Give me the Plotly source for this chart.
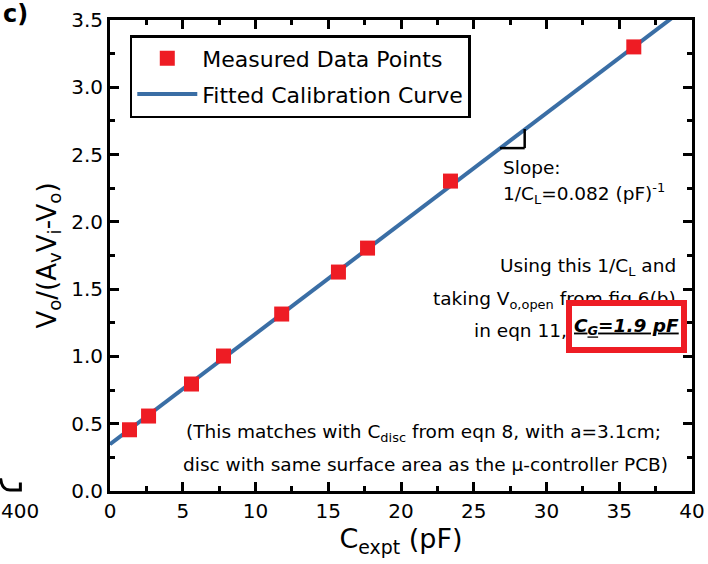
import plotly.graph_objects as go

# Data
c_expt = [1.34, 2.65, 5.6, 7.8, 11.8, 15.7, 17.7, 23.4, 36.0]
v_ratio = [0.455, 0.557, 0.795, 1.003, 1.315, 1.627, 1.805, 2.303, 3.30]
fit_x = [0, 40]
slope = 0.082
intercept = 0.348
fit_y = [intercept + slope * x for x in fit_x]

x_ticks = [0, 5, 10, 15, 20, 25, 30, 35, 40]
y_ticks = [0.0, 0.5, 1.0, 1.5, 2.0, 2.5, 3.0, 3.5]
y_tick_text = ["%.1f" % v for v in y_ticks]

FONT = "DejaVu Sans"
RED = "#ee1c24"
BLUE = "#3a6ea5"

fig = go.Figure()
fig.add_trace(go.Scatter(x=fit_x, y=fit_y, mode="lines", name="Fitted Calibration Curve",
                         legendgroup="b", legendrank=2, line=dict(color=BLUE, width=4)))
fig.add_trace(go.Scatter(x=c_expt, y=v_ratio, mode="markers", name="Measured Data Points",
                         legendgroup="a", legendrank=1,
                         marker=dict(symbol="square", size=15, color=RED)))

axis_common = dict(showline=True, linecolor="black", linewidth=3, mirror="allticks",
                   ticks="inside", ticklen=9, tickwidth=3, tickcolor="black",
                   showgrid=False, zeroline=False, automargin=False,
                   tickfont=dict(family=FONT, size=20, color="black"))

fig.update_xaxes(range=[0, 40], tickvals=x_ticks,
                 minor=dict(ticks="inside", ticklen=5, tickwidth=3, dtick=2.5, tickcolor="black"),
                 title=dict(text="C<sub>expt</sub> (pF)", font=dict(family=FONT, size=27, color="black"),
                            standoff=7),
                 **axis_common)
fig.update_yaxes(range=[0, 3.5], tickvals=y_ticks, ticktext=y_tick_text,
                 minor=dict(ticks="inside", ticklen=5, tickwidth=3, dtick=0.25, tickcolor="black"),
                 title=dict(text="V<sub>o</sub>/(A<sub>v</sub>V<sub>i</sub>-V<sub>o</sub>)",
                            font=dict(family=FONT, size=26, color="black"), standoff=8),
                 **axis_common)

ann_font = dict(family=FONT, size=18.5, color="black")
annotations = [
    dict(text="<b>c)</b>", xref="paper", yref="paper", x=-0.188, y=1.013, xanchor="left",
         yanchor="middle", showarrow=False, font=dict(family=FONT, size=24, color="black")),
    dict(text="400", xref="paper", yref="paper", x=-0.155, y=-0.042, xanchor="center",
         yanchor="middle", showarrow=False, font=dict(family=FONT, size=20, color="black")),
    dict(text="Slope:", x=26.84, y=2.407, xanchor="left", yanchor="middle", showarrow=False, font=ann_font),
    dict(text="1/C<sub>L</sub>=0.082 (pF)<sup>-1</sup>", x=26.84, y=2.214, xanchor="left",
         yanchor="middle", showarrow=False, font=ann_font),
    dict(text="Using this 1/C<sub>L</sub> and", x=39.07, y=1.664, xanchor="right",
         yanchor="middle", showarrow=False, font=ann_font),
    dict(text="taking V<sub>o,open</sub> from fig 6(b)", x=39.07, y=1.419, xanchor="right",
         yanchor="middle", showarrow=False, font=ann_font),
    dict(text="in eqn 11,", x=24.9, y=1.196, xanchor="left",
         yanchor="middle", showarrow=False, font=ann_font),
    dict(text="<b><i><u>C<sub>G</sub>=1.9 pF</u></i></b>", x=35.5, y=1.225, xanchor="center",
         yanchor="middle", showarrow=False, font=ann_font, bgcolor="white",
         bordercolor=RED, borderwidth=6, borderpad=2, width=105, height=37),
    dict(text="(This matches with C<sub>disc</sub> from eqn 8, with a=3.1cm;", x=21.55, y=0.431,
         xanchor="center", yanchor="middle", showarrow=False, font=ann_font),
    dict(text="disc with same surface area as the \u03bc-controller PCB)", x=21.65, y=0.2,
         xanchor="center", yanchor="middle", showarrow=False, font=ann_font),
]

shapes = [
    # slope right-angle marker
    dict(type="line", x0=26.8, y0=2.548, x1=28.5, y1=2.548, line=dict(color="black", width=2.5)),
    dict(type="line", x0=28.5, y0=2.548, x1=28.5, y1=2.69, line=dict(color="black", width=2.5)),
    # remnant of neighbouring panel axis
    dict(type="path", xref="paper", yref="paper",
         path="M -0.188,0.027 Q -0.186,0.002 -0.172,0.002 L -0.154,0.002 L -0.154,0.018",
         line=dict(color="black", width=3)),
]

fig.update_layout(
    width=708, height=564,
    margin=dict(l=110, r=16, t=20, b=73),
    plot_bgcolor="white", paper_bgcolor="white",
    showlegend=True,
    legend=dict(x=0.034, y=0.968, xanchor="left", yanchor="top",
                bordercolor="black", borderwidth=2.5, bgcolor="white",
                font=dict(family=FONT, size=22, color="black"),
                traceorder="grouped", itemwidth=60, tracegroupgap=4),
    annotations=annotations,
    shapes=shapes,
)

fig.write_html("out.html", config={"displayModeBar": False},
               post_script="document.body.style.margin='0';")
